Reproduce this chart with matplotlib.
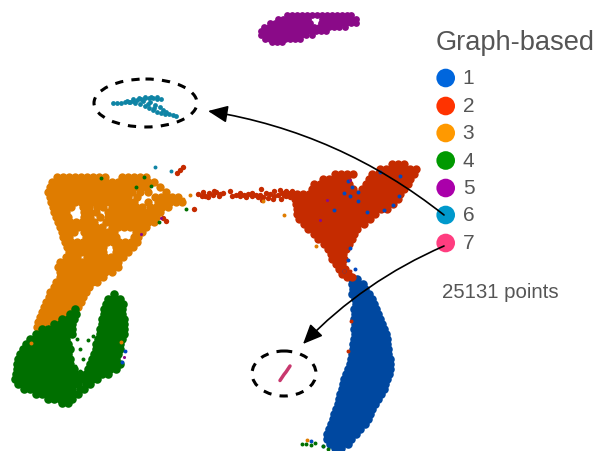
import matplotlib
matplotlib.use("Agg")
import matplotlib.pyplot as plt
from matplotlib.patches import Ellipse

# embedding coordinates, one row per y: {y: [x, ...]}
orange_rows = {
    178: [57, 63, 69, 75, 81, 87, 93, 99, 105, 122, 128, 134, 140, 146],
    183: [52, 58, 64, 70, 76, 82, 88, 94, 100, 106, 112, 118, 124, 130, 136, 142, 148, 154],
    188: [50, 56, 62, 68, 74, 80, 86, 92, 98, 104, 110, 116, 122, 128, 134, 140, 146, 160],
    193: [48, 54, 60, 66, 72, 78, 84, 90, 96, 102, 108, 114, 120, 126, 132, 140, 148, 166],
    198: [50, 56, 62, 68, 74, 80, 86, 92, 98, 104, 110, 116, 122, 128, 137, 155, 161, 167, 172, 178],
    203: [51, 57, 63, 69, 75, 81, 87, 93, 99, 105, 110, 116, 122, 128, 134, 148, 158, 164, 170, 176, 182],
    208: [53, 59, 65, 71, 83, 89, 97, 103, 112, 118, 124, 130, 136, 142, 150, 156, 162, 168],
    213: [54, 60, 66, 84, 90, 96, 108, 112, 118, 124, 130, 136, 142, 148, 154, 160],
    218: [56, 62, 68, 84, 90, 100, 108, 114, 120, 126, 132, 138, 144, 150, 156],
    223: [58, 64, 70, 76, 82, 88, 94, 106, 112, 118, 124, 130, 136, 142, 148, 154],
    228: [60, 66, 72, 78, 84, 90, 96, 102, 112, 118, 124, 130, 134, 140, 146],
    233: [62, 68, 74, 84, 90, 96, 102, 108, 114, 136, 142],
    238: [63, 69, 86, 92, 98, 104, 110, 116, 134, 138],
    243: [65, 71, 77, 83, 89, 95, 101, 107, 113, 119, 125, 131, 137],
    248: [67, 73, 79, 85, 91, 97, 103, 116, 122, 128, 133],
    253: [69, 75, 81, 85, 91, 97, 103, 116, 122, 128],
    258: [66, 71, 77, 87, 93, 99, 105, 111, 117, 123],
    263: [60, 65, 71, 76, 82, 88, 94, 100, 106, 112, 118],
    268: [58, 64, 70, 76, 82, 88, 94, 100, 106, 112, 118],
    273: [60, 63, 69, 75, 81, 87, 93, 99, 105, 112],
    278: [60, 66, 72, 78, 84, 90, 96, 103],
    283: [56, 62, 68, 74, 80, 86, 92, 97],
    288: [54, 60, 66, 72, 78, 84, 89],
    293: [50, 56, 62, 68, 74, 80, 86],
    298: [49, 55, 61, 67, 73, 78, 83],
    303: [46, 52, 58, 64, 70, 76, 81],
    308: [44, 50, 56, 62, 68, 72, 78],
    313: [42, 48, 54, 60, 66, 72],
    318: [40, 46, 52, 58, 63],
    323: [38, 44, 50, 55],
    328: [37, 43],
}
green_rows = {
    295: [114],
    300: [108, 114, 120],
    305: [106, 112, 118, 123],
    310: [75, 104, 110, 116, 122],
    315: [70, 76, 104, 110, 116, 122],
    320: [62, 68, 74, 102, 108, 114, 120, 124],
    325: [54, 60, 66, 72, 102, 108, 114, 120, 124],
    330: [42, 48, 54, 60, 66, 72, 100, 106, 112, 118, 124],
    335: [36, 42, 48, 54, 60, 66, 72, 100, 106, 112, 118, 124],
    340: [30, 36, 42, 48, 54, 60, 66, 98, 104, 110, 116, 122],
    345: [26, 32, 38, 44, 50, 56, 62, 68, 96, 102, 108, 114, 120],
    350: [23, 29, 35, 41, 47, 53, 59, 65, 70, 96, 102, 108, 114, 120],
    355: [20, 26, 32, 38, 44, 50, 56, 62, 68, 94, 100, 106, 112, 118],
    360: [18, 24, 30, 36, 42, 48, 54, 60, 66, 70, 92, 98, 104, 110, 116],
    365: [17, 23, 29, 35, 41, 47, 53, 59, 65, 70, 90, 96, 102, 108, 114, 120],
    370: [17, 23, 29, 35, 41, 47, 53, 59, 65, 70, 74, 88, 92, 98, 104, 110, 116],
    375: [16, 22, 28, 34, 40, 46, 52, 58, 64, 70, 74, 80, 86, 90, 96, 102, 108],
    380: [15, 21, 27, 33, 39, 45, 51, 57, 63, 69, 75, 81, 87, 92, 97],
    385: [18, 24, 30, 36, 42, 48, 54, 60, 66, 72, 78, 86, 90],
    390: [24, 30, 36, 42, 48, 54, 60, 66, 72, 80, 84],
    395: [36, 42, 48, 54, 60, 66, 72, 78],
    400: [48, 54, 60, 66, 72],
    404: [62, 68],
}
blue_rows = {
    280: [352, 357],
    285: [352, 358, 363],
    290: [353, 359, 365],
    295: [352, 358, 364, 369],
    300: [355, 361, 367, 372],
    305: [356, 362, 368, 374],
    310: [354, 360, 366, 372, 376],
    315: [355, 361, 367, 373, 378],
    320: [354, 360, 366, 372, 376, 380],
    325: [355, 361, 367, 373, 379, 382],
    330: [354, 360, 366, 372, 378, 384],
    335: [355, 361, 367, 373, 379, 386],
    340: [354, 360, 366, 372, 378, 384, 387],
    345: [353, 359, 365, 371, 377, 383, 387],
    350: [353, 359, 365, 371, 377, 383, 388],
    355: [352, 358, 364, 370, 376, 382, 388],
    360: [351, 357, 363, 369, 375, 381, 387, 390],
    365: [350, 356, 362, 368, 374, 380, 386, 390],
    370: [348, 354, 360, 366, 372, 378, 384, 390],
    375: [346, 352, 358, 364, 370, 376, 382, 389],
    380: [344, 350, 356, 362, 368, 374, 380, 387],
    385: [343, 349, 355, 361, 367, 373, 379, 385],
    390: [342, 348, 354, 360, 366, 372, 378, 384],
    395: [340, 346, 352, 358, 364, 370, 376, 381],
    400: [339, 345, 351, 357, 363, 369, 375, 378],
    405: [338, 344, 350, 356, 362, 368, 375],
    410: [336, 342, 348, 354, 360, 366, 372],
    415: [334, 340, 346, 352, 358, 364, 370],
    420: [333, 339, 345, 351, 357, 363, 368],
    425: [331, 337, 343, 349, 355, 361, 365],
    430: [329, 335, 341, 347, 353, 360],
    435: [327, 333, 339, 345, 351, 356],
    440: [327, 333, 339, 345, 351],
    445: [330, 336, 342, 348],
    449: [335, 341],
}
red_rows = {
    165: [392, 398, 404],
    170: [380, 386, 392, 398, 404, 410, 416],
    175: [335, 341, 347, 353, 372, 378, 384, 390, 396, 402, 408, 414],
    180: [323, 329, 335, 341, 347, 369, 375, 381, 387, 393, 399, 405, 410],
    185: [314, 320, 326, 332, 338, 344, 349, 366, 372, 378, 384, 390, 396, 402, 408],
    190: [312, 318, 324, 330, 336, 342, 348, 353, 362, 368, 374, 380, 386, 392, 398, 404],
    195: [285, 291, 297, 303, 309, 315, 321, 327, 333, 339, 345, 351, 357, 363, 369, 375, 381, 387, 393, 400],
    200: [295, 301, 307, 313, 319, 325, 331, 337, 343, 349, 355, 361, 367, 373, 379, 385, 391, 398],
    205: [296, 302, 308, 314, 320, 326, 332, 338, 344, 350, 356, 362, 368, 374, 380, 386, 393],
    210: [297, 303, 309, 315, 321, 327, 333, 339, 345, 351, 357, 363, 369, 375, 381, 387],
    215: [297, 303, 309, 315, 321, 327, 333, 339, 345, 351, 357, 363, 369, 375],
    220: [299, 305, 311, 317, 323, 329, 335, 341, 347, 353, 359, 365, 370],
    225: [304, 310, 316, 322, 328, 334, 340, 346, 352, 358, 364],
    230: [308, 314, 320, 326, 332, 338, 344, 350, 357],
    235: [314, 320, 326, 332, 338, 344, 350, 354],
    240: [318, 324, 330, 336, 342, 348, 352],
    245: [324, 330, 336, 342, 349],
    250: [328, 334, 340, 346],
    255: [331, 337, 343],
    260: [332, 338, 344],
    265: [336, 342],
    270: [339, 345],
    275: [342, 348],
    278: [347, 352],
}
purple_rows = {
    16: [287, 292, 297, 302, 307, 312, 317, 322, 327, 332, 337, 342, 347, 351],
    20: [278, 283, 288, 293, 298, 303, 308, 322, 327, 332, 337, 342, 347, 352, 356],
    24: [270, 275, 280, 285, 290, 295, 300, 305, 310, 321, 326, 331, 336, 341, 346, 351, 356],
    28: [264, 269, 274, 279, 284, 289, 294, 299, 304, 309, 314, 319, 324, 329, 334, 339, 345],
    32: [261, 266, 271, 276, 281, 286, 291, 296, 301, 306, 311, 316, 321, 326],
    36: [261, 266, 271, 276, 281, 286, 291, 296, 301, 306, 312],
    40: [265, 270, 275, 280, 285, 290, 295, 300],
    43: [272, 277, 282],
}
teal_x = [113, 117, 121, 125, 129, 133, 137, 141, 145, 149, 153, 157, 161, 130, 135, 140, 145, 149, 153,
          157, 161, 165, 169, 173, 176, 150, 155, 160, 163, 166, 127, 133, 139, 145, 151, 157, 143, 148, 154]
teal_y = [104, 104, 104, 103, 103, 102, 101, 100, 99, 99, 99, 100, 100, 103, 104, 105, 107, 109, 111,
          113, 114, 115, 115, 116, 117, 103, 106, 108, 111, 113, 102, 100, 99, 98, 98, 98, 102, 105, 109]
pink_x = [280, 282, 284, 286, 288, 290]
pink_y = [381.5, 378.5, 375.5, 373, 370, 367]

tail_x = [198, 203, 205, 209, 213, 216, 220, 223, 230, 232, 236, 240, 244, 248, 252, 256, 260, 263, 266,
          270, 274, 278, 282, 286, 290, 261, 180, 177, 183, 163, 166, 194, 202, 208, 214, 219, 262, 268, 274,
          280, 286, 292, 240, 246, 252, 258, 273, 281]
tail_y = [195, 193, 197, 194, 196, 193, 195, 194, 192, 197, 196, 194, 196, 195, 194, 196, 196, 198, 194,
          195, 197, 196, 194, 197, 198, 190, 171, 174, 168, 219, 222, 210, 197, 198, 192, 197, 201, 199, 192,
          191, 192, 192, 197, 198, 197, 198, 200, 200]

blue_stray_x = [348, 352, 344, 358, 350, 358, 334, 367, 384, 393, 399, 400, 380, 350, 348, 355, 344, 311, 323, 125, 122]
blue_stray_y = [182, 188, 194, 193, 197, 202, 211, 213, 211, 206, 197, 177, 173, 249, 261, 270, 272, 442, 447, 352, 363]
red_stray_x = [351, 348, 347, 350, 344, 351]
red_stray_y = [322, 352, 275, 272, 272, 276]
purple_stray_x = [350, 327, 320, 141, 124, 161]
purple_stray_y = [181, 201, 221, 235, 358, 219]
orange_stray_x = [316, 284, 263, 307, 31, 121, 190, 183]
orange_stray_y = [247, 216, 202, 441, 344, 343, 196, 200]
green_stray_x = [101, 144, 136, 151, 186, 159, 302, 306, 311, 315, 323, 328, 77, 88, 93, 80, 83, 75, 80]
green_stray_y = [179, 178, 188, 187, 210, 223, 445, 445, 446, 444, 447, 450, 340, 341, 337, 350, 360, 367, 372]
teal_stray_x = [155, 171]
teal_stray_y = [168, 172]

legend_labels = ["1", "2", "3", "4", "5", "6", "7"]
legend_colors = ["#0066DD", "#FF3300", "#FF9900", "#009900", "#AA00AA", "#0099CC", "#FF3D80"]
legend_y = [79, 107, 134, 161.5, 189, 216, 244]


def draw_rows(ax, rows, color, s):
    xs = []
    ys = []
    for y, row in rows.items():
        xs.extend(row)
        ys.extend([y] * len(row))
    ax.scatter(xs, ys, s=s, color=color, linewidths=0)


plt.rcParams["font.family"] = ["Liberation Sans", "DejaVu Sans"]
fig = plt.figure(figsize=(5.95, 4.52), dpi=100)
ax = fig.add_axes([0, 0, 1, 1])
ax.set_xlim(0, 595)
ax.set_ylim(452, 0)
ax.axis("off")

draw_rows(ax, orange_rows, "#DF7C00", 36)
draw_rows(ax, green_rows, "#006F00", 38)
draw_rows(ax, blue_rows, "#0048A0", 38)
draw_rows(ax, red_rows, "#C52B00", 36)
draw_rows(ax, purple_rows, "#8A0A88", 24)
ax.scatter(tail_x, tail_y, s=15, color="#C52B00", linewidths=0)
ax.scatter(teal_x, teal_y, s=12, color="#0F84A5", linewidths=0)
ax.plot(pink_x, pink_y, color="#C8386E", lw=2.5, solid_capstyle="round")
ax.scatter(blue_stray_x, blue_stray_y, s=8, color="#0048C0", linewidths=0)
ax.scatter(red_stray_x, red_stray_y, s=8, color="#C52B00", linewidths=0)
ax.scatter(purple_stray_x, purple_stray_y, s=5, color="#8A0A88", linewidths=0)
ax.scatter(orange_stray_x, orange_stray_y, s=8, color="#DF7C00", linewidths=0)
ax.scatter(green_stray_x, green_stray_y, s=8, color="#006F00", linewidths=0)
ax.scatter(teal_stray_x, teal_stray_y, s=8, color="#0F84A5", linewidths=0)

# dashed rings round the two small clusters
ax.add_patch(Ellipse((145.5, 104), 103, 48, fill=False, ec="black", lw=2.2, ls=(0, (2.7, 2.7))))
ax.add_patch(Ellipse((284, 374.5), 64, 45, fill=False, ec="black", lw=2.2, ls=(0, (2.7, 2.7))))

# legend
ax.scatter([445.7] * len(legend_y), legend_y, s=180, c=legend_colors, linewidths=0)
for label, y in zip(legend_labels, legend_y):
    ax.text(462.7, y, label, fontsize=15, color="#555555", va="center", ha="left")
ax.text(436, 50, "Graph-based", fontsize=19.6, color="#555555", va="baseline", ha="left")
ax.text(442, 293, "25131 points", fontsize=14.7, color="#555555", va="center", ha="left")

# arrows from the legend dots
ax.annotate("", xy=(208, 112), xytext=(444, 216),
            arrowprops=dict(arrowstyle="-|>,head_length=0.8,head_width=0.35", color="black", lw=1.2,
                            mutation_scale=15, shrinkA=0, shrinkB=0, connectionstyle="arc3,rad=0.13"))
ax.annotate("", xy=(303, 345), xytext=(444, 247),
            arrowprops=dict(arrowstyle="-|>,head_length=0.8,head_width=0.35", color="black", lw=1.2,
                            mutation_scale=15, shrinkA=0, shrinkB=0, connectionstyle="arc3,rad=0.1"))

fig.savefig("out.png", dpi=100)
plt.close()
